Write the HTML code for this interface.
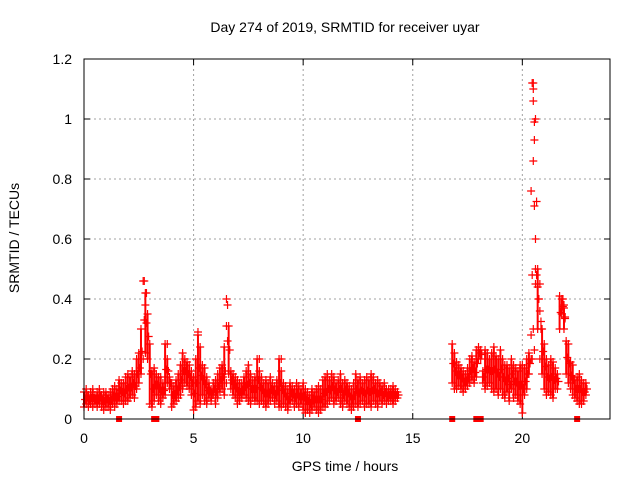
<!DOCTYPE html>
<html><head><meta charset="utf-8"><style>
body{margin:0;background:#fff}
svg{display:block;font-family:"Liberation Sans",sans-serif}
</style></head><body>
<svg id="c" width="640" height="480">
<text x="345" y="32" text-anchor="middle" font-size="14">Day 274 of 2019, SRMTID for receiver uyar</text>
<text x="345" y="471" text-anchor="middle" font-size="14">GPS time / hours</text>
<text x="19" y="238" text-anchor="middle" font-size="14" transform="rotate(-90 19 238)">SRMTID / TECUs</text>
<g id="grid"></g><g id="ticks"></g><g id="marks"></g>
<rect x="84" y="59" width="526" height="360" fill="none" stroke="#000"/>
</svg>
<script>
const xTicks=[0,5,10,15,20];
const yTicks=[0,0.2,0.4,0.6,0.8,1,1.2];
const yTickLabels=["0","0.2","0.4","0.6","0.8","1","1.2"];
const segAStart=0;
const segALo=[.04,.05,.04,.05,.04,.05,.04,.05,.04,.03,.04,.04,.03,.05,.04,.05,.06,.06,.05,.06,.06,.07,.08,.07,.1,.12,.15,.2,.22,.2,.05,.04,.06,.08,.06,.05,.07,.08,.12,.1,.04,.05,.06,.07,.08,.1,.12,.11,.1,.08,.03,.04,.06,.05,.08,.06,.05,.07,.06,.08,.05,.07,.09,.1,.08,.12,.15,.1,.08,.07,.05,.06,.07,.08,.07,.06,.05,.07,.06,.06,.05,.06,.05,.04,.05,.06,.07,.05,.06,.04,.04,.05,.04,.03,.05,.06,.04,.05,.04,.05,.03,.02,.03,.02,.03,.04,.03,.02,.03,.04,.04,.05,.06,.07,.05,.06,.07,.05,.04,.06,.05,.04,.03,.04,.05,.04,.05,.06,.04,.05,.05,.04,.06,.05,.04,.06,.05,.06,.05,.06,.06,.05,.06,.07];
const segAHi=[.09,.1,.08,.09,.1,.08,.09,.1,.08,.09,.09,.08,.09,.1,.11,.1,.13,.12,.12,.14,.15,.14,.16,.15,.2,.22,.3,.46,.42,.35,.25,.16,.17,.15,.14,.14,.12,.25,.2,.14,.12,.11,.13,.15,.18,.22,.2,.19,.18,.16,.14,.2,.28,.24,.18,.17,.14,.12,.1,.12,.13,.15,.17,.18,.24,.4,.31,.16,.15,.14,.13,.12,.12,.14,.16,.18,.15,.13,.14,.2,.16,.14,.12,.13,.12,.14,.12,.11,.13,.2,.16,.12,.11,.1,.12,.11,.1,.12,.11,.1,.12,.1,.09,.08,.1,.09,.1,.11,.1,.13,.14,.15,.13,.15,.14,.12,.13,.15,.12,.13,.12,.11,.1,.12,.15,.13,.14,.12,.13,.14,.13,.15,.14,.12,.13,.12,.11,.12,.1,.1,.1,.11,.1,.09];
const segBStart=16.8;
const segBLo=[.12,.1,.1,.11,.1,.09,.1,.11,.12,.13,.12,.14,.2,.2,.12,.1,.11,.12,.1,.09,.1,.08,.1,.08,.07,.09,.06,.1,.07,.08,.06,.05,.02,.08,.1,.15,.2,.3,.45,.3,.2,.15,.1,.08,.09,.08,.07,.1,.1,.3,.35,.3,.15,.12,.1,.08,.07,.06,.05,.05,.06,.08];
const segBHi=[.25,.22,.19,.18,.17,.16,.15,.17,.2,.21,.19,.23,.24,.23,.16,.23,.22,.2,.22,.24,.21,.2,.23,.2,.18,.18,.17,.2,.18,.17,.16,.18,.18,.17,.2,.22,.76,1.12,1.0,.5,.45,.3,.25,.2,.18,.2,.19,.17,.15,.41,.4,.37,.26,.25,.19,.18,.13,.14,.15,.13,.12,.12];
const extraT=[2.75,2.85,2.8,6.55,6.5,20.45,20.5,20.5,20.55,20.55,20.5,20.6,20.6,20.65,20.7,20.75,20.8,20.85,21.85,21.9,21.95,3.8,5.2,9.0,8.0,20.4,20.45,20.55];
const extraV=[.46,.42,.38,.38,.31,1.12,1.1,1.06,.99,.93,.86,.6,.5,.48,.44,.4,.36,.3,.4,.38,.34,.25,.29,.2,.2,.28,.2,.23];
const gapT=[1.6,3.2,3.3,12.5,16.8,17.9,18.1,22.5];
const X0=84,X1=610,Y0=419,Y1=59;
const xs=t=>X0+(t-0)/(24-0)*(X1-X0);
const ys=v=>Y0-(v-0)/(1.2-0)*(Y0-Y1);
const NS="http://www.w3.org/2000/svg";
function mk(tag,attrs,parent){const e=document.createElementNS(NS,tag);for(const k in attrs)e.setAttribute(k,attrs[k]);parent.appendChild(e);return e;}
const grid=document.getElementById('grid'),ticks=document.getElementById('ticks'),marks=document.getElementById('marks');
xTicks.forEach(t=>{const x=xs(t);
 if(t>0){const g=mk('line',{x1:x,x2:x,y1:Y1,y2:Y0,stroke:'#a0a0a0','stroke-dasharray':'2,3'},grid);
 
 }
 mk('line',{x1:x,x2:x,y1:Y0,y2:Y0-6,stroke:'#000'},ticks);mk('line',{x1:x,x2:x,y1:Y1,y2:Y1+6,stroke:'#000'},ticks);
 const l=mk('text',{x:x,y:Y0+24,'text-anchor':'middle','font-size':14},ticks);l.textContent=t;
 
 
});
yTicks.forEach((v,i)=>{const y=ys(v);
 if(v>0&&v<1.2){const g=mk('line',{x1:X0,x2:X1,y1:y,y2:y,stroke:'#a0a0a0','stroke-dasharray':'2,3'},grid);
 
 }
 mk('line',{x1:X0,x2:X0+6,y1:y,y2:y,stroke:'#000'},ticks);mk('line',{x1:X1,x2:X1-6,y1:y,y2:y,stroke:'#000'},ticks);
 const l=mk('text',{x:72,y:y+5,'text-anchor':'end','font-size':14},ticks);l.textContent=yTickLabels[i];
 
 
});
function cross(t,v){const x=xs(t),y=ys(v);
 const p=mk('path',{d:`M${x-4} ${y}h8M${x} ${y-4}v8`,stroke:'#f00','stroke-width':1.2,fill:'none'},marks);
 
 }
function seg(start,lo,hi){lo.forEach((l,i)=>{const t=start+i*0.1;const h=hi[i];
 if(h-l<0.25){const b=mk('line',{x1:xs(t),x2:xs(t),y1:ys(l),y2:ys(h),stroke:'#f00','stroke-width':2},marks);
 
 }
 cross(t,l);cross(t,h);cross(t+0.05,(l+h)/2);});}
seg(segAStart,segALo,segAHi);seg(segBStart,segBLo,segBHi);
extraT.forEach((t,i)=>cross(t,extraV[i]));
gapT.forEach(t=>{const r=mk('rect',{x:xs(t)-3,y:Y0-3,width:6,height:6,fill:'#f00'},marks);
 
 });
</script>
</body></html>
